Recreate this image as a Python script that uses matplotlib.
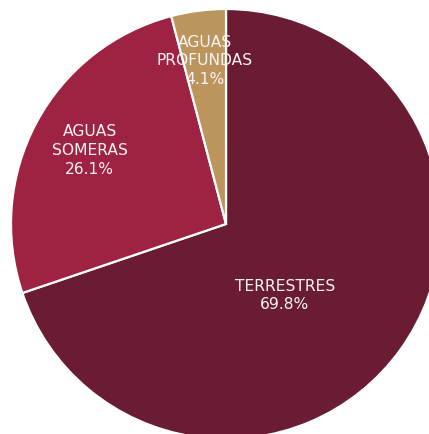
"""Distribucion por tipo de yacimiento: pastel con etiquetas internas."""

import matplotlib

matplotlib.use("Agg")
import matplotlib.pyplot as plt
import numpy as np

categorias = ["TERRESTRES", "AGUAS\nSOMERAS", "AGUAS\nPROFUNDAS"]
porcentajes = [69.8, 26.1, 4.1]
colores = ["#6A1C33", "#9E2241", "#BC955C"]

# radio (fraccion) y desplazamiento angular de cada etiqueta
radio_etiqueta = [0.43, 0.72, 0.765]
giro_etiqueta = [-15.0, 0.0, 0.0]

R_PX = 215.0
CX, CY = 226.0, 224.0
W, H = 429, 434

fig = plt.figure(figsize=(W / 100, H / 100), dpi=100)
ax = fig.add_axes([0, 0, 1, 1])
ax.set_axis_off()

wedges, _ = ax.pie(
    porcentajes,
    colors=colores,
    startangle=90,
    counterclock=False,
    radius=1.0,
    wedgeprops=dict(edgecolor="white", linewidth=1.6),
)

for w, cat, pct, r, giro in zip(wedges, categorias, porcentajes, radio_etiqueta, giro_etiqueta):
    ang = np.deg2rad((w.theta1 + w.theta2) / 2 + giro)
    ax.text(
        r * np.cos(ang), r * np.sin(ang), f"{cat}\n{pct:.1f}%",
        ha="center", va="center", color="#FBF4F6", fontsize=11.2,
        family="DejaVu Sans", linespacing=1.32,
    )

ax.set_xlim(-CX / R_PX, (W - CX) / R_PX)
ax.set_ylim(-(H - CY) / R_PX, CY / R_PX)
ax.set_aspect("auto")

fig.savefig("out.png", dpi=100)
